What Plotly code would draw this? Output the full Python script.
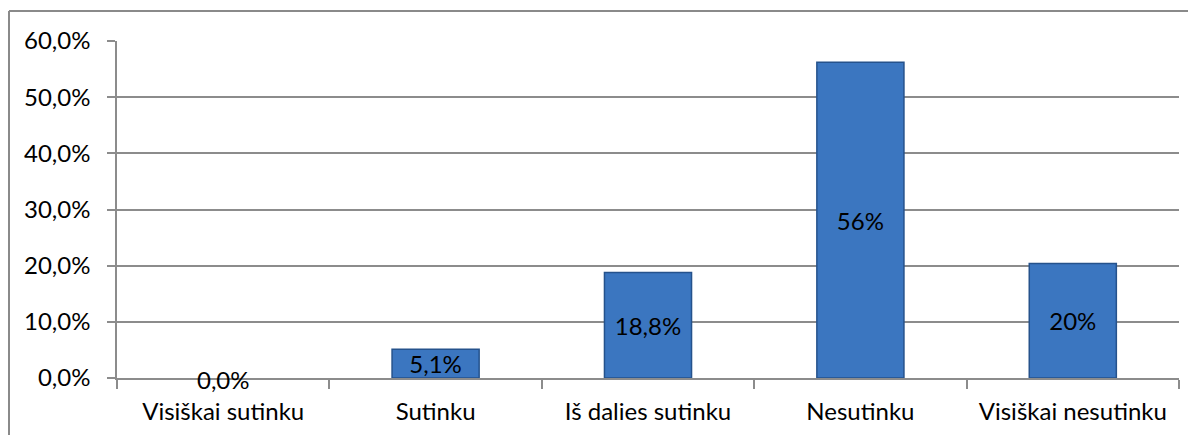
import plotly.graph_objects as go

categories = ["Visiškai sutinku", "Sutinku", "Iš dalies sutinku", "Nesutinku", "Visiškai nesutinku"]
values = [0.0, 5.1, 18.8, 56.2, 20.4]
labels = ["0,0%", "5,1%", "18,8%", "56%", "20%"]
tick_vals = [0, 10, 20, 30, 40, 50, 60]
tick_text = ["0,0%", "10,0%", "20,0%", "30,0%", "40,0%", "50,0%", "60,0%"]

FONT = "Lato, Calibri, Carlito, sans-serif"
GRID = "#8c8c8c"
FS = 24

bar_text = [t if v > 0 else "" for t, v in zip(labels, values)]
line_w = [1.5 if v > 0 else 0 for v in values]

fig = go.Figure()
fig.add_trace(go.Bar(
    x=list(range(len(categories))),
    y=values,
    text=bar_text,
    textposition="inside",
    insidetextanchor="middle",
    textangle=0,
    constraintext="none",
    textfont=dict(family=FONT, size=FS, color="#000000"),
    marker=dict(color="#3B76C0", line=dict(color="#25528C", width=line_w)),
    width=0.41,
    hoverinfo="skip",
))

for i, (v, t) in enumerate(zip(values, labels)):
    if v == 0:
        fig.add_annotation(x=i, y=v, text=t, showarrow=False, yanchor="middle",
                           yshift=-1, font=dict(family=FONT, size=FS, color="#000000"))

fig.update_layout(
    width=1196, height=435,
    margin=dict(l=109, r=25, t=33, b=65, autoexpand=False),
    paper_bgcolor="white", plot_bgcolor="white",
    showlegend=False,
    font=dict(family=FONT, size=FS, color="#000000"),
)
fig.update_xaxes(
    range=[-0.5, 4.5],
    tickmode="array", tickvals=list(range(len(categories))), ticktext=categories,
    ticks="", showline=True, linecolor=GRID, linewidth=1.5,
    showgrid=False, zeroline=False,
    tickfont=dict(family=FONT, size=FS, color="#000000"),
    ticklabelstandoff=11,
)
fig.update_xaxes(minor=dict(tickmode="array", tickvals=[i - 0.5 for i in range(len(categories) + 1)],
                            ticks="outside", ticklen=9, tickcolor=GRID, tickwidth=1.5, showgrid=False))
fig.update_yaxes(
    range=[0, 60], tickmode="array", tickvals=tick_vals, ticktext=tick_text,
    ticks="outside", ticklen=8, tickcolor=GRID, tickwidth=1.5,
    showline=True, linecolor=GRID, linewidth=1.5,
    showgrid=True, gridcolor=GRID, gridwidth=1.5, zeroline=False,
    tickfont=dict(family=FONT, size=FS, color="#000000"),
    ticklabelstandoff=12,
)

# outer chart border (top and left edges visible)
fig.add_shape(type="line", xref="paper", yref="paper", x0=-0.1017, x1=1.05, y0=1.089, y1=1.089,
              line=dict(color="#8a8a8a", width=2))
fig.add_shape(type="line", xref="paper", yref="paper", x0=-0.1017, x1=-0.1017, y0=1.089, y1=-0.25,
              line=dict(color="#8a8a8a", width=2))

fig.write_html("out.html")
